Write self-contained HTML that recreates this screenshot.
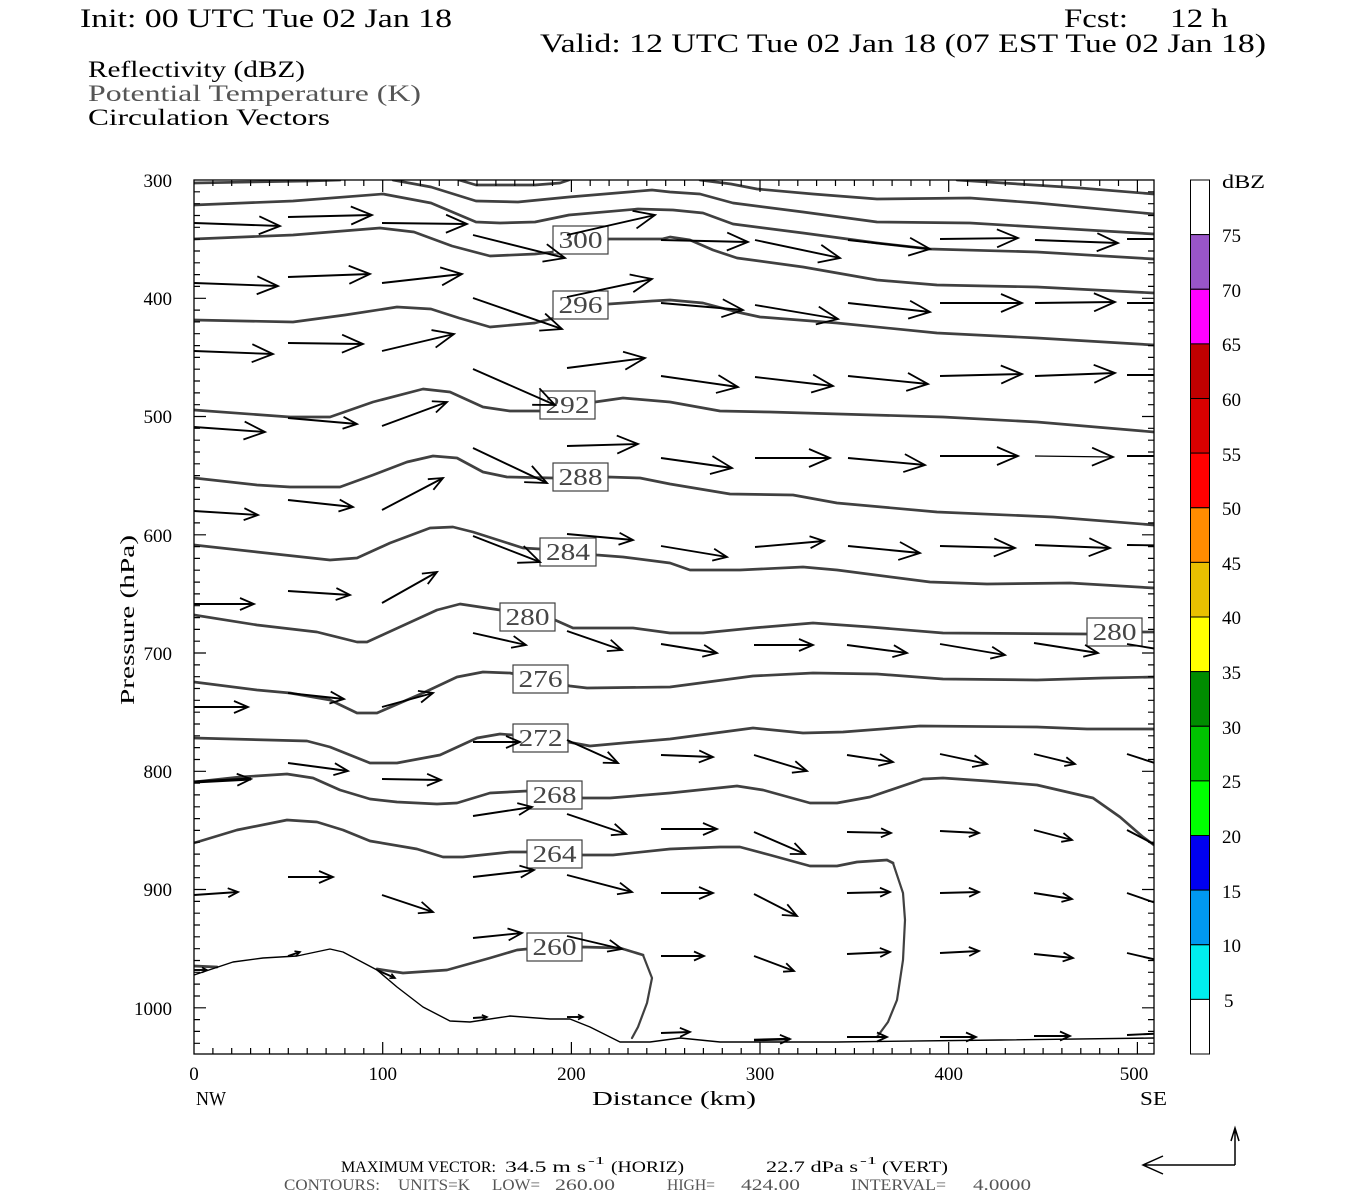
<!DOCTYPE html>
<html><head><meta charset="utf-8"><style>
html,body{margin:0;padding:0;background:#fff;}
svg{display:block;}
text{font-family:"Liberation Serif",serif;}
</style></head><body>
<svg width="1350" height="1200" viewBox="0 0 1350 1200" xmlns="http://www.w3.org/2000/svg">
<defs>
<clipPath id="plot"><rect x="194" y="180" width="960" height="874"/></clipPath>
<marker id="aL" viewBox="0 0 22 20" markerWidth="22" markerHeight="20" refX="21" refY="10" orient="auto" markerUnits="userSpaceOnUse" overflow="visible"><path d="M0,1 L21,10 L0,19" fill="none" stroke="#000" stroke-width="1.8"/></marker>
<marker id="aM" viewBox="0 0 15 14" markerWidth="15" markerHeight="14" refX="14" refY="7" orient="auto" markerUnits="userSpaceOnUse" overflow="visible"><path d="M0,1 L14,7 L0,13" fill="none" stroke="#000" stroke-width="1.8"/></marker>
<marker id="aS" viewBox="0 0 11 10" markerWidth="11" markerHeight="10" refX="10" refY="5" orient="auto" markerUnits="userSpaceOnUse" overflow="visible"><path d="M0,0.5 L10,5 L0,9.5" fill="none" stroke="#000" stroke-width="1.8"/></marker>
<marker id="aT" viewBox="0 0 6 6" markerWidth="6" markerHeight="6" refX="5" refY="3" orient="auto" markerUnits="userSpaceOnUse" overflow="visible"><path d="M0,0.5 L5,3 L0,5.5" fill="none" stroke="#000" stroke-width="1.6"/></marker>
<path id="lt" d="M194 191.8h6M194 203.7h6M194 215.5h6M194 227.3h6M194 239.1h6M194 251h6M194 262.8h6M194 274.6h6M194 286.4h6M194 298.3h12M194 310.1h6M194 321.9h6M194 333.7h6M194 345.6h6M194 357.4h6M194 369.2h6M194 381h6M194 392.9h6M194 404.7h6M194 416.5h12M194 428.3h6M194 440.2h6M194 452h6M194 463.8h6M194 475.6h6M194 487.5h6M194 499.3h6M194 511.1h6M194 522.9h6M194 534.8h12M194 546.6h6M194 558.4h6M194 570.2h6M194 582.1h6M194 593.9h6M194 605.7h6M194 617.6h6M194 629.4h6M194 641.2h6M194 653h12M194 664.9h6M194 676.7h6M194 688.5h6M194 700.3h6M194 712.2h6M194 724h6M194 735.8h6M194 747.6h6M194 759.5h6M194 771.3h12M194 783.1h6M194 794.9h6M194 806.8h6M194 818.6h6M194 830.4h6M194 842.2h6M194 854.1h6M194 865.9h6M194 877.7h6M194 889.5h12M194 901.4h6M194 913.2h6M194 925h6M194 936.8h6M194 948.7h6M194 960.5h6M194 972.3h6M194 984.1h6M194 996h6M194 1007.8h12M194 1019.6h6M194 1031.4h6M194 1043.3h6" fill="none" stroke="#000" stroke-width="1.2"/>
<path id="bt" d="M212.9 1054v-6M231.7 1054v-6M250.6 1054v-6M269.5 1054v-6M288.3 1054v-6M307.2 1054v-6M326.1 1054v-6M344.9 1054v-6M363.8 1054v-6M382.7 1054v-12M401.5 1054v-6M420.4 1054v-6M439.3 1054v-6M458.2 1054v-6M477 1054v-6M495.9 1054v-6M514.8 1054v-6M533.6 1054v-6M552.5 1054v-6M571.4 1054v-12M590.2 1054v-6M609.1 1054v-6M628 1054v-6M646.8 1054v-6M665.7 1054v-6M684.6 1054v-6M703.4 1054v-6M722.3 1054v-6M741.2 1054v-6M760 1054v-12M778.9 1054v-6M797.8 1054v-6M816.6 1054v-6M835.5 1054v-6M854.4 1054v-6M873.2 1054v-6M892.1 1054v-6M911 1054v-6M929.9 1054v-6M948.7 1054v-12M967.6 1054v-6M986.5 1054v-6M1005.3 1054v-6M1024.2 1054v-6M1043.1 1054v-6M1061.9 1054v-6M1080.8 1054v-6M1099.7 1054v-6M1118.5 1054v-6M1137.4 1054v-12" fill="none" stroke="#000" stroke-width="1.2"/>
</defs>
<rect width="1350" height="1200" fill="#fff"/>

<!-- Titles -->
<text x="80" y="27" font-size="26" textLength="372" lengthAdjust="spacingAndGlyphs">Init: 00 UTC Tue 02 Jan 18</text>
<text x="1064" y="27" font-size="26" textLength="64" lengthAdjust="spacingAndGlyphs">Fcst:</text>
<text x="1170" y="27" font-size="26" textLength="58" lengthAdjust="spacingAndGlyphs">12 h</text>
<text x="540" y="52" font-size="26" textLength="726" lengthAdjust="spacingAndGlyphs">Valid: 12 UTC Tue 02 Jan 18 (07 EST Tue 02 Jan 18)</text>
<text x="88" y="77" font-size="23" textLength="217" lengthAdjust="spacingAndGlyphs">Reflectivity (dBZ)</text>
<text x="88" y="101" font-size="23" fill="#555" textLength="333" lengthAdjust="spacingAndGlyphs">Potential Temperature (K)</text>
<text x="88" y="125" font-size="23" textLength="242" lengthAdjust="spacingAndGlyphs">Circulation Vectors</text>

<!-- Contours -->
<g clip-path="url(#plot)" fill="none" stroke="#404040" stroke-width="2.7" stroke-linejoin="round" stroke-linecap="round">
<polyline points="957,180 1003,183 1080,188 1154,194"/>
<polyline points="459,180 476,185 535,185 560,183 569,180"/>
<polyline points="700,180 731,184 757,189 813,194 877,199 970,198 1037,203 1154,214"/>
<polyline points="194,183 307,181 340,180"/>
<polyline points="393,180 431,187 476,201 518,202 569,197 652,190 670,192 700,194 733,203 803,212 877,222 970,223 1037,227 1154,234"/>
<polyline points="194,205 293,201 383,194 431,203 476,222 500,223 535,222 569,215 638,209 673,210 703,213 733,224 803,233 877,243 930,249 1037,252 1154,259"/>
<polyline points="194,239 293,235 380,228 414,232 452,246 490,256 535,254 554,252 609,239 662,239 670,237 690,240 713,250 737,258 803,267 877,280 937,285 1037,287 1154,293"/>
<polyline points="194,320 293,322 345,315 397,307 431,309 459,318 490,327 535,323 554,318 609,304 652,301 670,300 703,303 737,312 760,317 837,323 937,333 1037,338 1154,345"/>
<polyline points="194,410 290,417 330,417 373,402 423,389 450,392 483,407 510,411 540,411 595,402 623,398 670,402 720,411 770,412 943,417 1037,422 1154,432"/>
<polyline points="194,478 257,485 290,487 340,487 373,475 407,462 433,456 457,458 483,472 507,477 553,478 608,477 640,478 670,484 730,494 793,495 837,503 937,512 1053,517 1154,525"/>
<polyline points="194,545 257,552 330,560 357,558 390,543 430,528 453,527 473,532 523,548 540,549 597,555 623,557 670,563 690,570 740,570 803,567 837,570 930,582 987,584 1070,583 1154,588"/>
<polyline points="194,615 257,625 317,632 357,642 367,642 437,610 460,604 500,610 555,620 573,628 633,628 670,633 703,633 753,628 813,623 870,627 943,633 1087,634 1142,632 1154,632"/>
<polyline points="194,682 257,690 290,693 330,700 357,713 377,713 423,693 457,677 483,672 510,673 570,686 587,688 670,687 753,676 813,673 877,674 943,679 1037,680 1103,678 1154,677"/>
<polyline points="194,738 307,741 330,747 370,763 397,763 440,755 477,738 500,734 513,735 568,742 590,746 623,743 670,739 753,728 803,733 843,732 920,726 1037,727 1087,729 1154,729"/>
<polyline points="194,782 240,777 287,774 313,778 340,790 370,799 397,802 437,804 457,803 490,793 527,791 583,798 610,798 670,793 737,786 763,790 810,803 837,803 870,797 923,779 943,778 987,781 1037,785 1093,798 1120,817 1143,837 1154,845"/>
<polyline points="194,843 237,830 287,820 317,822 343,830 370,841 417,849 443,857 463,857 510,852 527,852 583,855 613,855 670,849 720,847 740,847 770,855 810,866 837,866 857,862 887,860 893,863"/>
<polyline stroke-width="2.2" points="893,863 903,893 905,920 903,960 897,1000 888,1022 877,1037"/>
<polyline points="377,969 403,973 447,970 490,958 517,950 527,949 583,947 620,948 643,955"/>
<polyline stroke-width="2.2" points="643,955 652,978 647,1003 638,1027 632,1038"/>
<polyline points="194,966 217,967"/>
</g>
<!-- Terrain -->
<polyline clip-path="url(#plot)" fill="none" stroke="#000" stroke-width="1.4" stroke-linejoin="round" points="194,975 233,962 263,958 297,956 330,949 343,952 377,970 397,987 423,1007 450,1021 470,1022 510,1016 550,1019 570,1019 590,1027 620,1042 650,1042 680,1038 720,1042 837,1042 1000,1040 1154,1038"/>

<!-- Contour labels -->
<g fill="#fff" stroke="#404040" stroke-width="1.2">
<rect x="553" y="226" width="55" height="28"/>
<rect x="553" y="291" width="55" height="28"/>
<rect x="540" y="391" width="55" height="28"/>
<rect x="553" y="463" width="55" height="28"/>
<rect x="540" y="538" width="56" height="28"/>
<rect x="500" y="603" width="55" height="28"/>
<rect x="1087" y="618" width="55" height="28"/>
<rect x="513" y="665" width="55" height="28"/>
<rect x="513" y="724" width="55" height="28"/>
<rect x="527" y="781" width="55" height="28"/>
<rect x="527" y="840" width="55" height="28"/>
<rect x="527" y="933" width="55" height="28"/>
</g>
<g fill="#454545" font-size="24" text-anchor="middle">
<text x="580.5" y="248" textLength="44" lengthAdjust="spacingAndGlyphs">300</text>
<text x="580.5" y="313" textLength="44" lengthAdjust="spacingAndGlyphs">296</text>
<text x="567.5" y="413" textLength="44" lengthAdjust="spacingAndGlyphs">292</text>
<text x="580.5" y="485" textLength="44" lengthAdjust="spacingAndGlyphs">288</text>
<text x="568" y="560" textLength="44" lengthAdjust="spacingAndGlyphs">284</text>
<text x="527.5" y="625" textLength="44" lengthAdjust="spacingAndGlyphs">280</text>
<text x="1114.5" y="640" textLength="44" lengthAdjust="spacingAndGlyphs">280</text>
<text x="540.5" y="687" textLength="44" lengthAdjust="spacingAndGlyphs">276</text>
<text x="540.5" y="746" textLength="44" lengthAdjust="spacingAndGlyphs">272</text>
<text x="554.5" y="803" textLength="44" lengthAdjust="spacingAndGlyphs">268</text>
<text x="554.5" y="862" textLength="44" lengthAdjust="spacingAndGlyphs">264</text>
<text x="554.5" y="955" textLength="44" lengthAdjust="spacingAndGlyphs">260</text>
</g>

<!-- Vectors -->
<g clip-path="url(#plot)" stroke="#000" stroke-width="1.9" fill="none">
<g marker-end="url(#aL)">
<line x1="194" y1="223" x2="280" y2="226"/>
<line x1="288" y1="217" x2="372" y2="215"/>
<line x1="382" y1="223" x2="467" y2="224"/>
<line x1="473" y1="235" x2="565" y2="258"/>
<line x1="567" y1="235" x2="655" y2="215"/>
<line x1="661" y1="240" x2="748" y2="242"/>
<line x1="755" y1="240" x2="840" y2="258"/>
<line x1="848" y1="240" x2="930" y2="249"/>
<line x1="940" y1="239" x2="1018" y2="238"/>
<line x1="1035" y1="240" x2="1118" y2="243"/>
<line x1="1127" y1="239" x2="1200" y2="239"/>
<line x1="194" y1="283" x2="278" y2="286"/>
<line x1="288" y1="277" x2="370" y2="274"/>
<line x1="382" y1="283" x2="462" y2="274"/>
<line x1="473" y1="298" x2="562" y2="329"/>
<line x1="567" y1="297" x2="652" y2="279"/>
<line x1="661" y1="303" x2="743" y2="310"/>
<line x1="755" y1="305" x2="838" y2="319"/>
<line x1="848" y1="303" x2="930" y2="312"/>
<line x1="940" y1="303" x2="1022" y2="303"/>
<line x1="1035" y1="303" x2="1115" y2="302"/>
<line x1="1127" y1="303" x2="1200" y2="303"/>
<line x1="194" y1="351" x2="273" y2="354"/>
<line x1="288" y1="343" x2="363" y2="344"/>
<line x1="382" y1="351" x2="454" y2="334"/>
<line x1="473" y1="369" x2="555" y2="405"/>
<line x1="567" y1="368" x2="645" y2="358"/>
<line x1="661" y1="376" x2="738" y2="387"/>
<line x1="755" y1="377" x2="833" y2="386"/>
<line x1="848" y1="376" x2="928" y2="384"/>
<line x1="940" y1="376" x2="1022" y2="374"/>
<line x1="1035" y1="376" x2="1115" y2="373"/>
<line x1="1127" y1="375" x2="1200" y2="375"/>
<line x1="194" y1="427" x2="265" y2="432"/>
<line x1="473" y1="448" x2="547" y2="483"/>
<line x1="567" y1="446" x2="638" y2="444"/>
<line x1="661" y1="458" x2="732" y2="468"/>
<line x1="755" y1="458" x2="830" y2="458"/>
<line x1="848" y1="458" x2="925" y2="465"/>
<line x1="940" y1="456" x2="1018" y2="456"/>
<line x1="1035" y1="456" x2="1113" y2="457" stroke-width="1.2"/>
<line x1="1127" y1="456" x2="1200" y2="456"/>
<line x1="473" y1="536" x2="540" y2="562"/>
<line x1="848" y1="546" x2="920" y2="553"/>
<line x1="940" y1="546" x2="1015" y2="548"/>
<line x1="1035" y1="545" x2="1110" y2="548"/>
<line x1="1127" y1="545" x2="1200" y2="546"/>
</g>
<g marker-end="url(#aM)">
<line x1="288" y1="418" x2="357" y2="424"/>
<line x1="382" y1="426" x2="447" y2="402"/>
<line x1="194" y1="511" x2="258" y2="515"/>
<line x1="288" y1="500" x2="353" y2="507"/>
<line x1="382" y1="510" x2="443" y2="478"/>
<line x1="567" y1="534" x2="633" y2="540"/>
<line x1="661" y1="546" x2="727" y2="557"/>
<line x1="755" y1="547" x2="824" y2="541"/>
<line x1="194" y1="604" x2="254" y2="604"/>
<line x1="288" y1="591" x2="350" y2="595"/>
<line x1="382" y1="603" x2="437" y2="572"/>
<line x1="473" y1="633" x2="526" y2="645"/>
<line x1="567" y1="631" x2="622" y2="650"/>
<line x1="661" y1="644" x2="717" y2="653"/>
<line x1="754" y1="645" x2="813" y2="645"/>
<line x1="847" y1="645" x2="907" y2="653"/>
<line x1="940" y1="644" x2="1005" y2="655"/>
<line x1="1034" y1="643" x2="1098" y2="653"/>
<line x1="1127" y1="644" x2="1175" y2="652"/>
<line x1="194" y1="707" x2="248" y2="707"/>
<line x1="288" y1="693" x2="344" y2="699"/>
<line x1="382" y1="707" x2="433" y2="693"/>
<line x1="473" y1="742" x2="520" y2="742"/>
<line x1="567" y1="740" x2="618" y2="763"/>
<line x1="661" y1="755" x2="713" y2="757"/>
<line x1="754" y1="755" x2="807" y2="771"/>
<line x1="847" y1="755" x2="893" y2="762"/>
<line x1="940" y1="754" x2="987" y2="764"/>
<line x1="1127" y1="754" x2="1170" y2="768"/>
<line x1="194" y1="782" x2="251" y2="779" stroke-width="3"/>
<line x1="288" y1="763" x2="348" y2="771"/>
<line x1="382" y1="779" x2="441" y2="780"/>
<line x1="473" y1="816" x2="532" y2="807"/>
<line x1="567" y1="814" x2="626" y2="834"/>
<line x1="661" y1="829" x2="717" y2="829"/>
<line x1="754" y1="832" x2="805" y2="854"/>
<line x1="288" y1="877" x2="333" y2="877"/>
<line x1="382" y1="895" x2="433" y2="912"/>
<line x1="473" y1="877" x2="534" y2="870"/>
<line x1="567" y1="875" x2="632" y2="892"/>
<line x1="661" y1="893" x2="713" y2="893"/>
<line x1="754" y1="894" x2="797" y2="916"/>
<line x1="1127" y1="893" x2="1170" y2="908"/>
<line x1="473" y1="938" x2="522" y2="933"/>
<line x1="567" y1="936" x2="622" y2="949"/>
</g>
<g marker-end="url(#aS)">
<line x1="1034" y1="754" x2="1075" y2="764"/>
<line x1="847" y1="832" x2="891" y2="833"/>
<line x1="940" y1="831" x2="979" y2="833"/>
<line x1="1034" y1="830" x2="1072" y2="840"/>
<line x1="1127" y1="830" x2="1165" y2="850"/>
<line x1="194" y1="895" x2="238" y2="892"/>
<line x1="847" y1="893" x2="890" y2="892"/>
<line x1="940" y1="893" x2="979" y2="892"/>
<line x1="1034" y1="893" x2="1072" y2="899"/>
<line x1="661" y1="956" x2="704" y2="956"/>
<line x1="754" y1="956" x2="794" y2="971"/>
<line x1="847" y1="954" x2="890" y2="952"/>
<line x1="940" y1="953" x2="979" y2="951"/>
<line x1="1034" y1="954" x2="1073" y2="958"/>
<line x1="1127" y1="953" x2="1170" y2="963"/>
<line x1="661" y1="1033" x2="690" y2="1032"/>
<line x1="754" y1="1040" x2="790" y2="1039" stroke-width="2.6"/>
<line x1="847" y1="1037" x2="887" y2="1037"/>
<line x1="940" y1="1037" x2="976" y2="1037"/>
<line x1="1034" y1="1036" x2="1070" y2="1036"/>
<line x1="1127" y1="1035" x2="1170" y2="1033"/>
</g>
<g marker-end="url(#aT)">
<line x1="194" y1="970" x2="207" y2="970"/>
<line x1="288" y1="956" x2="300" y2="952"/>
<line x1="377" y1="970" x2="395" y2="978"/>
<line x1="473" y1="1018" x2="487" y2="1017"/>
<line x1="567" y1="1017" x2="583" y2="1017"/>
</g>
</g>

<!-- Frame and ticks -->
<rect x="194" y="180" width="960" height="874" fill="none" stroke="#000" stroke-width="1.3"/>
<use href="#lt"/>
<use href="#lt" transform="translate(1348,0) scale(-1,1)"/>
<use href="#bt"/>
<use href="#bt" transform="translate(0,1234) scale(1,-1)"/>

<!-- Y labels -->
<g font-size="19" text-anchor="end">
<text x="172" y="187">300</text>
<text x="172" y="305">400</text>
<text x="172" y="423">500</text>
<text x="172" y="542">600</text>
<text x="172" y="660">700</text>
<text x="172" y="778">800</text>
<text x="172" y="896">900</text>
<text x="172" y="1015">1000</text>
</g>
<text transform="translate(134,620) rotate(-90)" font-size="20" text-anchor="middle" textLength="170" lengthAdjust="spacingAndGlyphs">Pressure (hPa)</text>

<!-- X labels -->
<g font-size="19" text-anchor="middle">
<text x="194" y="1080">0</text>
<text x="382.7" y="1080">100</text>
<text x="571.4" y="1080">200</text>
<text x="760" y="1080">300</text>
<text x="948.7" y="1080">400</text>
<text x="1134" y="1080">500</text>
</g>
<text x="196" y="1105" font-size="20" textLength="30" lengthAdjust="spacingAndGlyphs">NW</text>
<text x="592" y="1105" font-size="20" textLength="164" lengthAdjust="spacingAndGlyphs">Distance (km)</text>
<text x="1140" y="1105" font-size="20" textLength="27" lengthAdjust="spacingAndGlyphs">SE</text>

<!-- Colorbar -->
<g stroke="#000" stroke-width="1">
<rect x="1190.5" y="180" width="19" height="54.6" fill="#fff"/>
<rect x="1190.5" y="234.6" width="19" height="54.6" fill="#9955c8"/>
<rect x="1190.5" y="289.3" width="19" height="54.6" fill="#ff00ff"/>
<rect x="1190.5" y="343.9" width="19" height="54.6" fill="#c00000"/>
<rect x="1190.5" y="398.5" width="19" height="54.6" fill="#d80000"/>
<rect x="1190.5" y="453.1" width="19" height="54.6" fill="#ff0000"/>
<rect x="1190.5" y="507.8" width="19" height="54.6" fill="#ff8c00"/>
<rect x="1190.5" y="562.4" width="19" height="54.6" fill="#e8c000"/>
<rect x="1190.5" y="617" width="19" height="54.6" fill="#ffff00"/>
<rect x="1190.5" y="671.6" width="19" height="54.6" fill="#008c00"/>
<rect x="1190.5" y="726.3" width="19" height="54.6" fill="#00c400"/>
<rect x="1190.5" y="780.9" width="19" height="54.6" fill="#00ff00"/>
<rect x="1190.5" y="835.5" width="19" height="54.6" fill="#0000f0"/>
<rect x="1190.5" y="890.1" width="19" height="54.6" fill="#0099f0"/>
<rect x="1190.5" y="944.8" width="19" height="54.6" fill="#00eeee"/>
<rect x="1190.5" y="999.4" width="19" height="54.6" fill="#fff"/>
</g>
<g font-size="19">
<text x="1222" y="188" textLength="43" lengthAdjust="spacingAndGlyphs">dBZ</text>
<text x="1222" y="242">75</text>
<text x="1222" y="297">70</text>
<text x="1222" y="351">65</text>
<text x="1222" y="406">60</text>
<text x="1222" y="461">55</text>
<text x="1222" y="515">50</text>
<text x="1222" y="570">45</text>
<text x="1222" y="624">40</text>
<text x="1222" y="679">35</text>
<text x="1222" y="734">30</text>
<text x="1222" y="788">25</text>
<text x="1222" y="843">20</text>
<text x="1222" y="898">15</text>
<text x="1222" y="952">10</text>
<text x="1224" y="1007">5</text>
</g>

<!-- Bottom text -->
<g font-size="16">
<text x="341" y="1172" textLength="155" lengthAdjust="spacingAndGlyphs">MAXIMUM VECTOR:</text>
<text x="505" y="1172" textLength="81" lengthAdjust="spacingAndGlyphs">34.5 m s</text>
<text x="588" y="1164" font-size="11" textLength="17" lengthAdjust="spacingAndGlyphs">-1</text>
<text x="611" y="1172" textLength="73" lengthAdjust="spacingAndGlyphs">(HORIZ)</text>
<text x="766" y="1172" textLength="92" lengthAdjust="spacingAndGlyphs">22.7 dPa s</text>
<text x="860" y="1164" font-size="11" textLength="17" lengthAdjust="spacingAndGlyphs">-1</text>
<text x="882" y="1172" textLength="66" lengthAdjust="spacingAndGlyphs">(VERT)</text>
</g>
<g font-size="16" fill="#555">
<text x="284" y="1190" textLength="96" lengthAdjust="spacingAndGlyphs">CONTOURS:</text>
<text x="398" y="1190" textLength="72" lengthAdjust="spacingAndGlyphs">UNITS=K</text>
<text x="492" y="1190" textLength="48" lengthAdjust="spacingAndGlyphs">LOW=</text>
<text x="555" y="1190" textLength="60" lengthAdjust="spacingAndGlyphs">260.00</text>
<text x="667" y="1190" textLength="48" lengthAdjust="spacingAndGlyphs">HIGH=</text>
<text x="741" y="1190" textLength="59" lengthAdjust="spacingAndGlyphs">424.00</text>
<text x="851" y="1190" textLength="95" lengthAdjust="spacingAndGlyphs">INTERVAL=</text>
<text x="973" y="1190" textLength="58" lengthAdjust="spacingAndGlyphs">4.0000</text>
</g>

<!-- Reference vector -->
<g fill="none" stroke="#000" stroke-width="1.5">
<path d="M1235 1165H1143M1163 1156L1143 1165L1163 1174"/>
<path d="M1235 1165V1128M1231 1141L1235 1128L1239 1141"/>
</g>
</svg>
</body></html>
